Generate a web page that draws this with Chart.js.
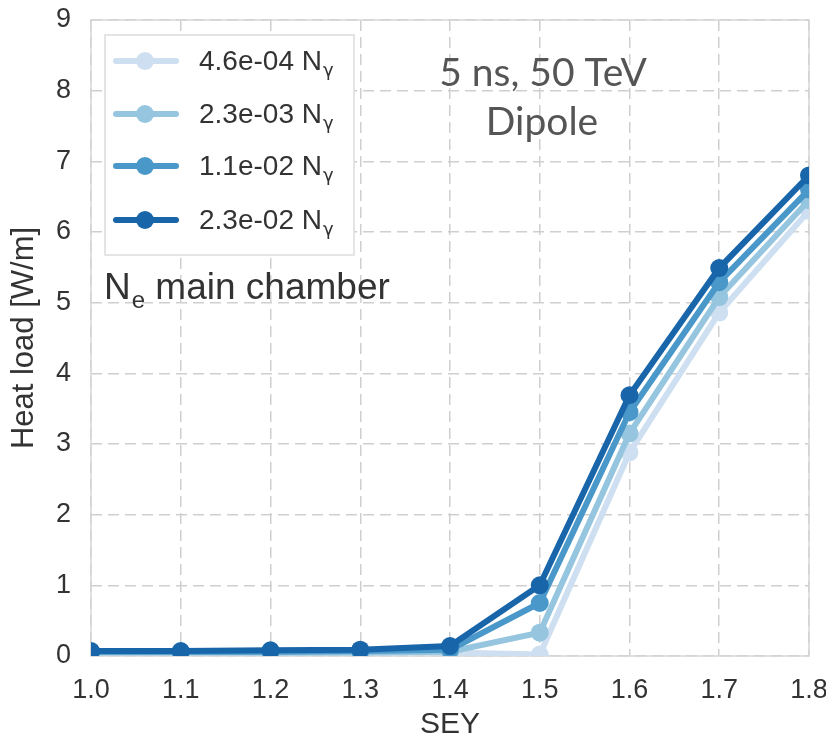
<!DOCTYPE html>
<html>
<head>
<meta charset="utf-8">
<script src="https://cdn.jsdelivr.net/npm/chart.js@4/dist/chart.umd.min.js"></script>
<style>
html,body{margin:0;padding:0;background:#fff;}
#wrap{width:826px;height:738px;position:relative;}
</style>
</head>
<body>
<div id="wrap"><canvas id="c" width="826" height="738"></canvas></div>
<script>
// ---- data ----
const sey = [1.0, 1.1, 1.2, 1.3, 1.4, 1.5, 1.6, 1.7, 1.8];
const load_4_6e_04 = [0.05, 0.05, 0.05, 0.05, 0.05, 0.02, 2.88, 4.86, 6.30];
const load_2_3e_03 = [0.05, 0.05, 0.05, 0.05, 0.06, 0.33, 3.15, 5.08, 6.45];
const load_1_1e_02 = [0.06, 0.06, 0.06, 0.07, 0.09, 0.75, 3.45, 5.29, 6.60];
const load_2_3e_02 = [0.07, 0.07, 0.08, 0.09, 0.14, 1.00, 3.69, 5.49, 6.80];
const seriesLabels = ['4.6e-04', '2.3e-03', '1.1e-02', '2.3e-02'];
const seriesValues = [load_4_6e_04, load_2_3e_03, load_1_1e_02, load_2_3e_02];
const seriesColors = ['#cddff1', '#95c5df', '#4a98c9', '#1865aa'];
const xTicks = [1.0, 1.1, 1.2, 1.3, 1.4, 1.5, 1.6, 1.7, 1.8];
const yTicks = [0, 1, 2, 3, 4, 5, 6, 7, 8, 9];
const annotationLines = ['5 ns, 50 TeV', 'Dipole'];
const chamberLabel = ['N', 'e', ' main chamber'];

const datasets = seriesValues.map((vals, i) => ({
  label: seriesLabels[i] + ' N\u03b3',
  data: sey.map((x, j) => ({x: x, y: vals[j]})),
  borderColor: seriesColors[i],
  backgroundColor: seriesColors[i],
  pointBackgroundColor: seriesColors[i],
  pointBorderWidth: 0,
  pointRadius: 9,
  pointHoverRadius: 9,
  borderWidth: 6,
  tension: 0,
  clip: 0,
  order: seriesValues.length - i
}));

const gridCol = '#cfcfcf';
const SANS = '"Liberation Sans", Arial, sans-serif';

const decor = {
  id: 'decor',
  beforeDatasetsDraw(chart) {
    const a = chart.chartArea, ctx = chart.ctx;
    ctx.save();
    ctx.strokeStyle = '#d6d6d6';
    ctx.lineWidth = 1.5;
    ctx.strokeRect(a.left, a.top, a.right - a.left, a.bottom - a.top);
    ctx.restore();
  },
  afterDraw(chart) {
    const ctx = chart.ctx;
    ctx.save();
    // legend box
    const bx = 105, by = 35, bw = 249, bh = 220;
    ctx.fillStyle = '#ffffff';
    ctx.fillRect(bx, by, bw, bh);
    ctx.strokeStyle = '#dcdcdc';
    ctx.lineWidth = 1.5;
    ctx.strokeRect(bx, by, bw, bh);
    const rowY = [61, 114, 166, 220];
    seriesLabels.forEach((lab, i) => {
      const y = rowY[i];
      ctx.strokeStyle = seriesColors[i];
      ctx.lineWidth = 6;
      ctx.lineCap = 'round';
      ctx.beginPath(); ctx.moveTo(116, y); ctx.lineTo(176, y); ctx.stroke();
      ctx.fillStyle = seriesColors[i];
      ctx.beginPath(); ctx.arc(145, y, 9, 0, Math.PI * 2); ctx.fill();
      ctx.fillStyle = '#333333';
      ctx.font = '28px ' + SANS;
      ctx.textBaseline = 'alphabetic';
      ctx.textAlign = 'left';
      const base = y + 9;
      const t = lab + ' N';
      ctx.fillText(t, 199, base);
      const w = ctx.measureText(t).width;
      ctx.font = '18px "DejaVu Sans", sans-serif';
      ctx.fillText('\u03b3', 199 + w + 1, base + 6);
    });
    // N_e main chamber
    ctx.fillStyle = '#333333';
    ctx.font = '37px ' + SANS;
    ctx.fillText(chamberLabel[0], 104, 299);
    let w0 = ctx.measureText(chamberLabel[0]).width;
    ctx.font = '24px ' + SANS;
    ctx.fillText(chamberLabel[1], 104 + w0 + 1, 308);
    let w1 = ctx.measureText(chamberLabel[1]).width;
    ctx.font = '37px ' + SANS;
    ctx.fillText(chamberLabel[2], 104 + w0 + w1 + 1, 299);
    // annotation
    ctx.fillStyle = '#555555';
    ctx.font = '39px Lato, "Open Sans", sans-serif';
    ctx.textAlign = 'center';
    ctx.textBaseline = 'alphabetic';
    ctx.fillText(annotationLines[0], 543, 86);
    ctx.fillText(annotationLines[1], 542, 135);
    ctx.restore();
  }
};

new Chart(document.getElementById('c'), {
  type: 'line',
  data: {datasets: datasets},
  plugins: [decor],
  options: {
    responsive: false,
    animation: false,
    events: [],
    layout: {padding: {top: 20, right: 0, left: 0, bottom: 0}},
    plugins: {legend: {display: false}, tooltip: {enabled: false}},
    scales: {
      x: {
        type: 'linear',
        min: 1.0, max: 1.8,
        afterFit(s) { s.height = 82; s.paddingRight = 17; s.paddingLeft = 0; },
        afterBuildTicks(s) { s.ticks = xTicks.map(v => ({value: v})); },
        ticks: {
          color: '#333333',
          font: {size: 27, family: SANS},
          padding: 18,
          maxRotation: 0,
          callback: v => Number(v).toFixed(1)
        },
        grid: {color: gridCol, lineWidth: 1.5, drawTicks: false},
        border: {display: false, dash: [11, 6]},
        title: {
          display: true, text: 'SEY', color: '#333333',
          font: {size: 30, family: SANS, lineHeight: 1},
          padding: {top: 0, bottom: -2}
        }
      },
      y: {
        type: 'linear',
        min: 0, max: 9,
        afterFit(s) { s.width = 91; s.paddingTop = 0; s.paddingBottom = 0; },
        afterBuildTicks(s) { s.ticks = yTicks.map(v => ({value: v})); },
        ticks: {
          color: '#333333',
          font: {size: 27, family: SANS},
          padding: 20
        },
        grid: {color: gridCol, lineWidth: 1.5, drawTicks: false},
        border: {display: false, dash: [11, 6]},
        title: {
          display: true, text: 'Heat load [W/m]', color: '#333333',
          font: {size: 31, family: SANS},
          padding: {top: 6, bottom: 0}
        }
      }
    }
  }
});
</script>
</body>
</html>
